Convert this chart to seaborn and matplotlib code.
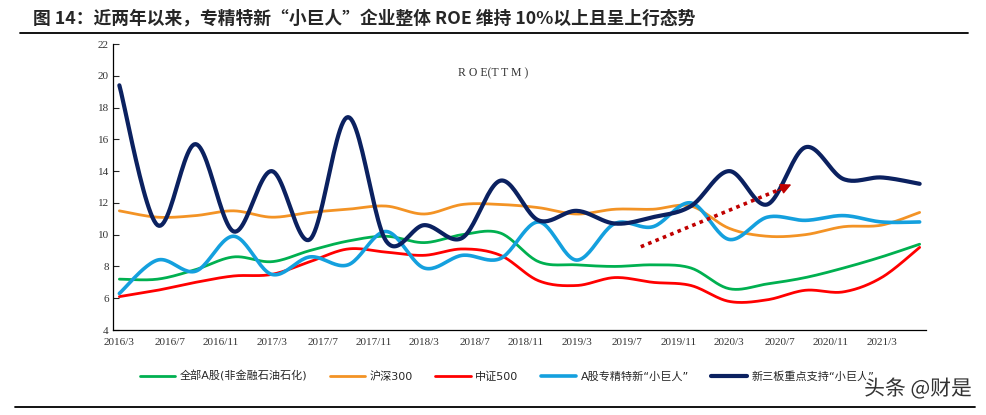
import numpy as np
import pandas as pd
import matplotlib
matplotlib.use("Agg")
import matplotlib.pyplot as plt
import matplotlib.patheffects as pe
import seaborn as sns

sns.set_style("white")
plt.rcParams["font.family"] = ["Noto Sans CJK SC", "DejaVu Sans"]

# quarterly data points (month index 0 = 2016/3, step 3 months)
quarters = ["2016/3", "2016/6", "2016/9", "2016/12", "2017/3", "2017/6", "2017/9", "2017/12",
            "2018/3", "2018/6", "2018/9", "2018/12", "2019/3", "2019/6", "2019/9", "2019/12",
            "2020/3", "2020/6", "2020/9", "2020/12", "2021/3", "2021/6"]
all_a = [7.2, 7.2, 7.8, 8.6, 8.3, 9.0, 9.6, 9.9, 9.5, 10.0, 10.1, 8.3,
         8.1, 8.0, 8.1, 7.9, 6.6, 6.9, 7.3, 7.9, 8.6, 9.4]
hs300 = [11.5, 11.1, 11.2, 11.5, 11.1, 11.4, 11.6, 11.8, 11.3, 11.9, 11.9, 11.7,
         11.3, 11.6, 11.6, 11.8, 10.4, 9.9, 10.0, 10.5, 10.6, 11.4]
zz500 = [6.1, 6.5, 7.0, 7.4, 7.5, 8.3, 9.1, 8.9, 8.7, 9.1, 8.7, 7.1,
         6.8, 7.3, 7.0, 6.8, 5.8, 5.9, 6.5, 6.4, 7.3, 9.2]
a_little_giant = [6.3, 8.4, 7.7, 9.9, 7.5, 8.6, 8.1, 10.2, 7.9, 8.7, 8.5, 10.8,
                  8.4, 10.7, 10.5, 12.0, 9.7, 11.1, 10.9, 11.2, 10.8, 10.8]
neeq_little_giant = [19.4, 10.6, 15.7, 10.2, 14.0, 9.7, 17.4, 9.6, 10.6, 9.8, 13.4, 10.9,
                     11.5, 10.7, 11.1, 11.8, 14.0, 11.9, 15.5, 13.5, 13.6, 13.2]

tick_labels = ["2016/3", "2016/7", "2016/11", "2017/3", "2017/7", "2017/11", "2018/3",
               "2018/7", "2018/11", "2019/3", "2019/7", "2019/11", "2020/3", "2020/7",
               "2020/11", "2021/3"]

series = [
    ("全部A股(非金融石油石化)", all_a, "#00B050", 2.0),
    ("沪深300", hs300, "#F39325", 2.0),
    ("中证500", zz500, "#FF0000", 2.0),
    ("A股专精特新\u201c小巨人\u201d", a_little_giant, "#14A0DE", 2.6),
    ("新三板重点支持\u201c小巨人\u201d", neeq_little_giant, "#0B2160", 3.0),
]


def smooth(x, y, n=24):
    # Excel-style smoothed line (Catmull-Rom through the points)
    x = np.asarray(x, float)
    y = np.asarray(y, float)
    xs, ys = [], []
    for i in range(len(x) - 1):
        i0, i3 = max(i - 1, 0), min(i + 2, len(x) - 1)
        t = np.linspace(0, 1, n, endpoint=False)
        for arr, out in ((x, xs), (y, ys)):
            p0, p1, p2, p3 = arr[i0], arr[i], arr[i + 1], arr[i3]
            out.append(0.5 * (2 * p1 + (-p0 + p2) * t + (2 * p0 - 5 * p1 + 4 * p2 - p3) * t ** 2
                              + (-p0 + 3 * p1 - 3 * p2 + p3) * t ** 3))
    xs.append([x[-1]])
    ys.append([y[-1]])
    return np.concatenate(xs), np.concatenate(ys)


month_idx = np.arange(len(quarters)) * 3

fig = plt.figure(figsize=(9.86, 4.15), dpi=100)
ax = fig.add_axes([113 / 986, 1 - 330 / 415, 813 / 986, 286 / 415])

for name, vals, color, lw in series:
    sx, sy = smooth(month_idx, vals)
    df = pd.DataFrame({"x": sx, "y": sy})
    sns.lineplot(data=df, x="x", y="y", ax=ax, color=color, linewidth=lw,
                 label=name, sort=False, estimator=None)

# dotted trend arrow
ax.plot([41.05, 52.3], [9.24, 12.95], color="#C00000", linewidth=2.6,
        linestyle=(0, (1, 1.2)), zorder=5)
ax.annotate("", xy=(53.1, 13.23), xytext=(51.6, 12.7),
            arrowprops=dict(arrowstyle="-|>", color="#C00000", mutation_scale=16, lw=1),
            zorder=6)

ax.text(29.4, 20.17, "R O E(T T M )", family="Liberation Serif", fontsize=8.5,
        color="#333333", ha="center", va="center")

ax.set_xlim(-0.5, 63.5)
ax.set_ylim(4, 22)
ax.set_yticks(np.arange(4, 23, 2))
ax.set_xticks(np.arange(-0.5, 64, 4))
ax.set_xticklabels([])
ax.set_xticks(np.arange(0, 61, 4), minor=True)
ax.set_xticklabels(tick_labels, minor=True)
ax.tick_params(axis="x", which="major", direction="in", length=4, width=0.8, color="black")
ax.tick_params(axis="x", which="minor", length=0, pad=6, labelsize=8, labelcolor="#333333")
ax.tick_params(axis="y", direction="in", length=4, width=0.8, pad=3, labelsize=8,
               labelcolor="#333333", left=True)
for lab in ax.get_xticklabels(minor=True) + ax.get_yticklabels():
    lab.set_family("Liberation Serif")
ax.set_xlabel("")
ax.set_ylabel("")
sns.despine(ax=ax)
for s in ["left", "bottom"]:
    ax.spines[s].set_color("black")
    ax.spines[s].set_linewidth(0.9)

ax.legend(loc="center", bbox_to_anchor=(507 / 986, 1 - 376 / 415),
          bbox_transform=fig.transFigure, ncol=5, frameon=False,
          prop={"family": ["DejaVu Sans", "Noto Sans CJK SC"], "size": 8},
          handlelength=3.2, handletextpad=0.4, columnspacing=2.0)

fig.text(33 / 986, 1 - 18 / 415,
         "图 14：近两年以来，专精特新\u201c小巨人\u201d企业整体 ROE 维持 10%以上且呈上行态势",
         fontsize=12.8, fontweight="bold", ha="left", va="center")
fig.add_artist(plt.Line2D([20 / 986, 968 / 986], [1 - 33.5 / 415] * 2, color="black", lw=1.3))
fig.add_artist(plt.Line2D([15 / 986, 975 / 986], [1 - 407 / 415] * 2, color="black", lw=1.3))

fig.text(972 / 986, 1 - 389 / 415, "头条 @财是", fontsize=15, color="#333333",
         ha="right", va="center",
         path_effects=[pe.withStroke(linewidth=3, foreground="white")])

fig.savefig("out.png", dpi=100)
